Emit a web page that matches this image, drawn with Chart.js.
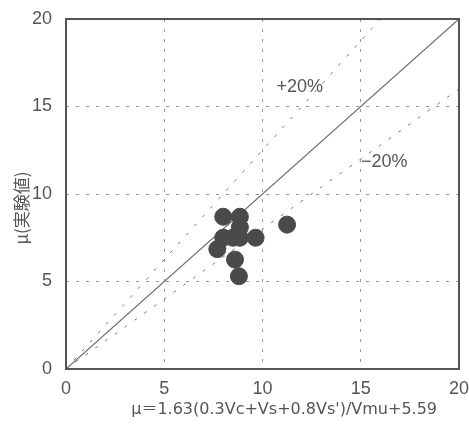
<!DOCTYPE html>
<html>
<head>
<meta charset="utf-8">
<script src="https://cdn.jsdelivr.net/npm/chart.js@4"></script>
<style>
  html, body { margin: 0; padding: 0; background: #fff; }
  #wrap { width: 469px; height: 428px; }
</style>
</head>
<body>
<div id="wrap"><canvas id="muChart"></canvas></div>
<script>
const calcMu = [8.0, 8.85, 8.85, 8.0, 8.5, 8.85, 9.65, 7.7, 8.6, 8.8, 11.25];
const expMu  = [8.7, 8.7, 8.1, 7.5, 7.5, 7.5, 7.5, 6.85, 6.25, 5.3, 8.25];

// reference lines: y = x, +20% and -20%
const lineEqual = [{x: 0, y: 0}, {x: 20, y: 20}];
const linePlus  = [{x: 0, y: 0}, {x: 16, y: 20}];
const lineMinus = [{x: 0, y: 0}, {x: 20, y: 16}];

const tickValues = [0, 5, 10, 15, 20];
const bandLabels = ['+20%', '\u221220%'];
const bandLabelAt = [{x: 11.9, y: 16.1}, {x: 16.2, y: 11.8}];

const xTitle = "\u03bc\uff1d1.63(0.3Vc+Vs+0.8Vs')/Vmu+5.59";
const yTitle = '\u03bc(\u5b9f\u9a13\u5024)';

const ink = '#555';

// frame round the plot, band labels and the axis titles
const framePlugin = {
    id: 'frame',
    afterDraw(chart) {
        const {ctx, chartArea: a, scales} = chart;
        ctx.save();
        ctx.strokeStyle = ink;
        ctx.lineWidth = 2;
        ctx.strokeRect(a.left, a.top, a.right - a.left, a.bottom - a.top);
        ctx.fillStyle = ink;
        ctx.font = '18px "Liberation Sans Narrow", "Liberation Sans", sans-serif';
        ctx.textAlign = 'center';
        ctx.textBaseline = 'middle';
        bandLabels.forEach((t, i) => {
            ctx.fillText(t, scales.x.getPixelForValue(bandLabelAt[i].x), scales.y.getPixelForValue(bandLabelAt[i].y));
        });

        // axis titles
        ctx.font = '16px "DejaVu Sans", "Noto Sans CJK JP", sans-serif';
        ctx.fillText(xTitle, a.left + (a.right - a.left) * 0.555, a.bottom + 41);
        ctx.translate(22, a.top + (a.bottom - a.top) * 0.54);
        ctx.rotate(-Math.PI / 2);
        ctx.font = '17px "Noto Sans CJK JP", sans-serif';
        ctx.fillText(yTitle, 0, 0);
        ctx.restore();
    }
};

const tickFont = {family: '"Liberation Sans Narrow", "Liberation Sans", sans-serif', size: 18};

new Chart(document.getElementById('muChart'), {
    type: 'scatter',
    data: {
        datasets: [
            {
                label: 'data',
                data: calcMu.map((x, i) => ({x: x, y: expMu[i]})),
                backgroundColor: '#4a4a4a',
                borderColor: '#4a4a4a',
                pointRadius: 8.5,
                order: 0
            },
            {
                label: 'y=x',
                data: lineEqual,
                showLine: true,
                borderColor: '#6a6a6a',
                borderWidth: 1.2,
                pointRadius: 0,
                order: 1
            },
            {
                label: '+20%',
                data: linePlus,
                showLine: true,
                borderColor: '#777',
                borderWidth: 1,
                borderDash: [3, 9],
                pointRadius: 0,
                order: 1
            },
            {
                label: '-20%',
                data: lineMinus,
                showLine: true,
                borderColor: '#777',
                borderWidth: 1,
                borderDash: [3, 9],
                pointRadius: 0,
                order: 1
            }
        ]
    },
    options: {
        responsive: true,
        maintainAspectRatio: false,
        animation: false,
        layout: {padding: {top: 19, right: 10, left: 0, bottom: 0}},
        plugins: {legend: {display: false}, tooltip: {enabled: false}},
        scales: {
            x: {
                type: 'linear',
                min: 0,
                max: 20,
                afterBuildTicks: (scale) => { scale.ticks = tickValues.map(v => ({value: v})); },
                afterFit: (scale) => {
                    scale.height = 59;
                    scale.paddingLeft = 0;
                    scale.paddingRight = 0;
                },
                grid: {color: '#999', drawTicks: false},
                border: {display: false, dash: [3, 7]},
                ticks: {color: ink, font: tickFont, padding: 9}
            },
            y: {
                type: 'linear',
                min: 0,
                max: 20,
                afterBuildTicks: (scale) => { scale.ticks = tickValues.map(v => ({value: v})); },
                afterFit: (scale) => {
                    scale.width = 66;
                    scale.paddingTop = 0;
                    scale.paddingBottom = 0;
                },
                grid: {color: '#999', drawTicks: false},
                border: {display: false, dash: [3, 7]},
                ticks: {color: ink, font: tickFont, padding: 14}
            }
        }
    },
    plugins: [framePlugin]
});
</script>
</body>
</html>
